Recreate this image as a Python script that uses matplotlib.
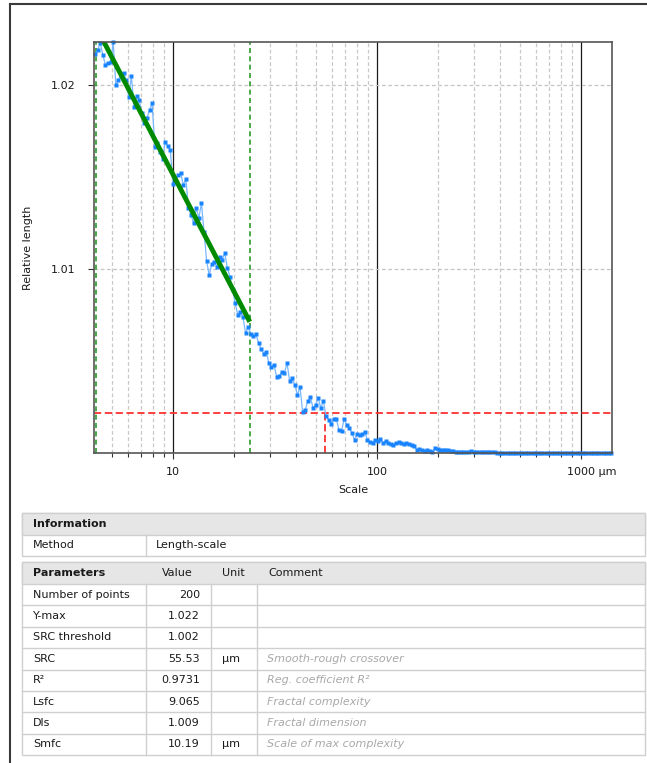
import numpy as np
import matplotlib
matplotlib.use("Agg")
import matplotlib.pyplot as plt
import matplotlib.transforms as mtransforms
from matplotlib.patches import Rectangle
from matplotlib.lines import Line2D
from matplotlib.ticker import FixedLocator, NullFormatter

# length-scale analysis: 200 scales, log spaced (µm)
n_points = 200
scales = np.geomspace(4.15, 1410, n_points)
rel_length = np.array([
    1.02168, 1.02190, 1.02228, 1.02163, 1.02109, 1.02120, 1.02125, 1.02232, 1.02000, 1.02027,
    1.02060, 1.02065, 1.02027, 1.01935, 1.02049, 1.01880, 1.01940, 1.01918, 1.01848, 1.01793,
    1.01821, 1.01864, 1.01902, 1.01663, 1.01685, 1.01636, 1.01598, 1.01690, 1.01668, 1.01647,
    1.01462, 1.01473, 1.01511, 1.01522, 1.01457, 1.01489, 1.01332, 1.01293, 1.01250, 1.01332,
    1.01277, 1.01359, 1.01201, 1.01043, 1.00967, 1.01027, 1.01038, 1.01011, 1.01065, 1.01049,
    1.01087, 1.01005, 1.00957, 1.00886, 1.00815, 1.00750, 1.00766, 1.00739, 1.00652, 1.00685,
    1.00647, 1.00636, 1.00647, 1.00598, 1.00565, 1.00538, 1.00549, 1.00489, 1.00467, 1.00478,
    1.00413, 1.00418, 1.00440, 1.00435, 1.00489, 1.00391, 1.00408, 1.00370, 1.00315, 1.00359,
    1.00223, 1.00234, 1.00283, 1.00304, 1.00245, 1.00261, 1.00299, 1.00245, 1.00283, 1.00201,
    1.00179, 1.00158, 1.00185, 1.00185, 1.00125, 1.00120, 1.00185, 1.00152, 1.00136, 1.00109,
    1.00071, 1.00103, 1.00098, 1.00103, 1.00114, 1.00071, 1.00060, 1.00054, 1.00071, 1.00065,
    1.00076, 1.00054, 1.00065, 1.00054, 1.00049, 1.00043, 1.00054, 1.00060, 1.00054, 1.00049,
    1.00054, 1.00049, 1.00043, 1.00038, 1.00016, 1.00022, 1.00016, 1.00011, 1.00016, 1.00011,
    1.00005, 1.00027, 1.00022, 1.00019, 1.00016, 1.00016, 1.00014, 1.00011, 1.00011, 1.00005,
    1.00008, 1.00008, 1.00005, 1.00005, 1.00005, 1.00011, 1.00005, 1.00003, 1.00003, 1.00004,
    1.00003, 1.00003, 1.00008, 1.00003, 1.00003, 1.00002, 1.00002, 1.00001, 1.00002, 1.00002,
    1.00001, 1.00002, 1.00001, 1.00001, 1.00002, 1.00001, 1.00001, 1.00001, 1.00002, 1.00001,
    1.00001, 1.00001, 1.00001, 1.00001, 1.00001, 1.00001, 1.00001, 1.00000, 1.00001, 1.00001,
    1.00000, 1.00001, 1.00000, 1.00000, 1.00001, 1.00000, 1.00000, 1.00000, 1.00000, 1.00000,
    1.00000, 1.00000, 1.00000, 1.00000, 1.00000, 1.00000, 1.00000, 1.00000, 1.00000, 1.00000,
])

fit_range = (4.18, 23.8)
src_threshold = 1.0022
src_scale = 55.53
x_limits = (4.10, 1420)
y_limits = (1.0, 1.02234)

info_names = ["Method"]
info_values = ["Length-scale"]
param_names = ["Number of points", "Y-max", "SRC threshold", "SRC", "R²", "Lsfc", "Dls", "Smfc"]
param_values = ["200", "1.022", "1.002", "55.53", "0.9731", "9.065", "1.009", "10.19"]
param_units = ["", "", "", "µm", "", "", "", "µm"]
param_comments = ["", "", "", "Smooth-rough crossover", "Reg. coefficient R²",
                  "Fractal complexity", "Fractal dimension", "Scale of max complexity"]

W, H = 647, 763
fig = plt.figure(figsize=(W / 100, H / 100), dpi=100)
plt.rcParams['font.family'] = ['DejaVu Sans']

def fx(x):
    return x / W

def fy(y):
    return 1 - y / H

ax = fig.add_axes([fx(94), fy(453), 518 / W, 411 / H])
ax.set_xscale('log')
ax.set_xlim(*x_limits)
ax.set_ylim(*y_limits)

# grid
minor_pos = [m * 10 ** d for d in range(0, 4) for m in range(2, 10)]
minor_pos = [v for v in minor_pos if x_limits[0] < v < x_limits[1]]
for v in minor_pos:
    ax.axvline(v, color='#c8c8c8', lw=0.9, dashes=(3, 2), zorder=1)
for v in [10, 100, 1000]:
    ax.axvline(v, color='#1a1a1a', lw=0.9, zorder=1)
for v in [1.01, 1.02]:
    ax.axhline(v, color='#c4c4c4', lw=0.9, dashes=(3, 2), zorder=1)

# threshold / fit markers
ax.axvline(fit_range[0], color='#2a9a2a', lw=1.2, dashes=(3, 2), zorder=2)
ax.axvline(fit_range[1], color='#2a9a2a', lw=1.2, dashes=(3, 2), zorder=2)
ax.axhline(src_threshold, color='#ff3030', lw=1.3, dashes=(4, 2), zorder=2)
ax.plot([src_scale, src_scale], [y_limits[0], src_threshold], color='#ff3030',
        lw=1.3, dashes=(4, 2), zorder=2)

# data
ax.plot(scales, rel_length, color='#79b8ff', lw=0.9, zorder=3)
ax.plot(scales, rel_length, 's', color='#1a84ff', ms=2.6, mec='none', zorder=4, clip_on=False)

# regression on the fit range
sel = (scales >= fit_range[0]) & (scales <= fit_range[1])
b, a = np.polyfit(np.log10(scales[sel]), rel_length[sel], 1)
fx_line = np.array(fit_range)
ax.plot(fx_line, a + b * np.log10(fx_line), color='#008a00', lw=3.5, zorder=5,
        solid_capstyle='butt')

for s in ax.spines.values():
    s.set_color('#555555')
    s.set_linewidth(1.2)
    s.set_zorder(6)

ax.xaxis.set_major_locator(FixedLocator([10, 100, 1000]))
ax.xaxis.set_minor_locator(FixedLocator(minor_pos))
ax.xaxis.set_minor_formatter(NullFormatter())
ax.set_xticklabels(["10", "100", "1000 µm"])
ax.set_yticks([1.01, 1.02])
ax.set_yticklabels(["1.01", "1.02"])
ax.tick_params(axis='both', which='major', length=4, width=0.8, color='#333333',
               labelsize=8, labelcolor='#1a1a1a', pad=6)
ax.tick_params(axis='x', which='minor', length=3, width=0.8, color='#333333')
ax.tick_params(axis='y', pad=9)
lbl = ax.get_xticklabels()[-1]
lbl.set_ha('left')
lbl.set_transform(lbl.get_transform() + mtransforms.ScaledTranslation(-0.14, 0, fig.dpi_scale_trans))

ax.set_xlabel("Scale", fontsize=8, color='#1a1a1a', labelpad=6)
fig.text(fx(28), fy(248), "Relative length", rotation=90, fontsize=8, color='#1a1a1a',
         ha='center', va='center')

# outer frame
fig.add_artist(Line2D([fx(10), fx(W)], [fy(4), fy(4)], transform=fig.transFigure,
                      color='#3a3a3a', lw=1.5))
fig.add_artist(Line2D([fx(10), fx(10)], [fy(4), fy(H)], transform=fig.transFigure,
                      color='#3a3a3a', lw=1.5))

# tables
line_c = '#cfcfcf'
head_bg = '#e6e6e6'
txt_c = '#1a1a1a'

def box(x0, y0, x1, y1, fc):
    fig.add_artist(Rectangle((fx(x0), fy(y1)), (x1 - x0) / W, (y1 - y0) / H,
                             transform=fig.transFigure, fc=fc, ec=line_c, lw=1))

def hline(y, x0, x1):
    fig.add_artist(Line2D([fx(x0), fx(x1)], [fy(y), fy(y)], transform=fig.transFigure,
                          color=line_c, lw=1))

def vline(x, y0, y1):
    fig.add_artist(Line2D([fx(x), fx(x)], [fy(y0), fy(y1)], transform=fig.transFigure,
                          color=line_c, lw=1))

def put(x, y, s, ha='left', **kw):
    fig.text(fx(x), fy(y), s, ha=ha, va='center', fontsize=8, color=kw.pop('color', txt_c), **kw)

tx0, tx1 = 22, 645
c1, c2, c3 = 146, 210.5, 257

# information table
box(tx0, 513, tx1, 556, 'white')
box(tx0, 513, tx1, 535, head_bg)
put(33, 524, "Information", weight='bold')
row_h = 21
for k, (nm, vl) in enumerate(zip(info_names, info_values)):
    yc = 535 + row_h * (k + 0.5)
    put(33, yc, nm)
    put(156, yc, vl)
vline(c1, 535, 556)

# parameters table
top, head_b = 562, 584
prow = (755 - head_b) / len(param_names)
box(tx0, top, tx1, 755, 'white')
box(tx0, top, tx1, head_b, head_bg)
put(33, 573, "Parameters", weight='bold')
put(177, 573, "Value", ha='center')
put(222, 573, "Unit")
put(268, 573, "Comment")
for k in range(len(param_names)):
    y0 = head_b + prow * k
    yc = y0 + prow / 2
    if k > 0:
        hline(y0, tx0, tx1)
    put(33, yc, param_names[k])
    put(200, yc, param_values[k], ha='right')
    put(222, yc, param_units[k])
    put(267, yc, param_comments[k], color='#a8a8a8', style='italic')
for c in (c1, c2, c3):
    vline(c, head_b, 755)

fig.savefig("out.png", dpi=100)
